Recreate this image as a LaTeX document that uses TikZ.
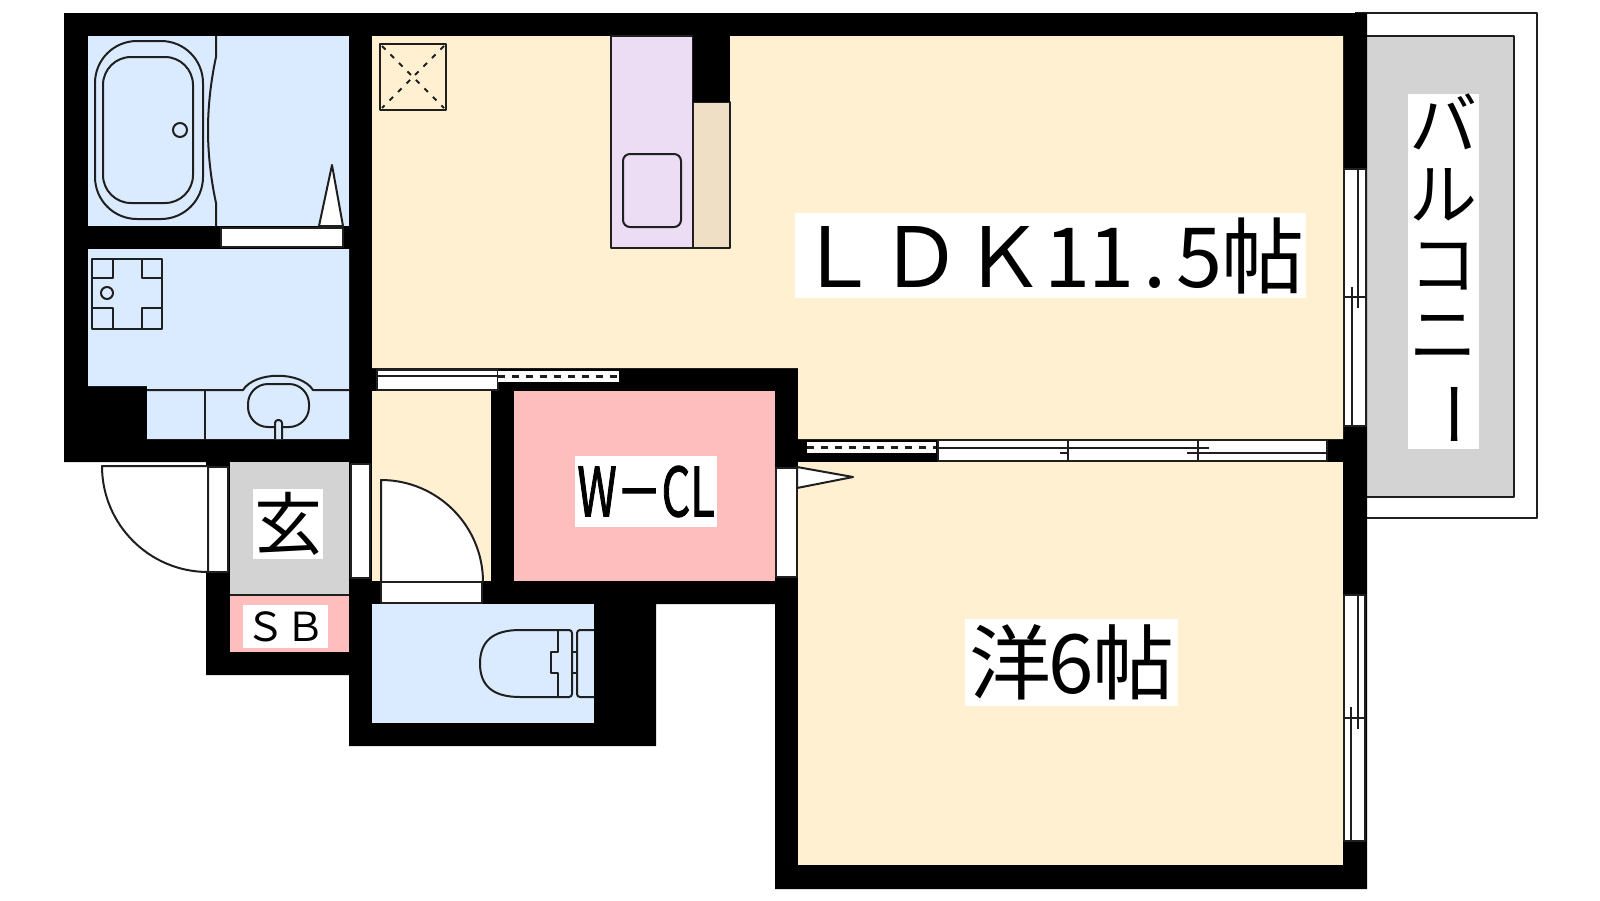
\documentclass[tikz,border=0pt]{standalone}
\usepackage{fontspec}
\usepackage{xcolor}
\setmainfont{Noto Sans CJK JP}
\newfontfamily\narrowfont[FakeStretch=0.66, FakeBold=1.2]{Noto Sans CJK JP}
\usetikzlibrary{positioning}
\definecolor{wetblue}{HTML}{DBEBFF}
\definecolor{roomcream}{HTML}{FFF0D2}
\definecolor{kitchenlilac}{HTML}{ECDDF5}
\definecolor{counterbeige}{HTML}{EFDFC5}
\definecolor{closetpink}{HTML}{FFBEBE}
\definecolor{floorgray}{HTML}{D3D3D3}
\newcommand{\hw}[1]{\makebox[41pt]{#1}}
\newcommand{\hwb}[1]{\makebox[44pt]{#1}}
\begin{document}
\begin{tikzpicture}[x=1pt, y=-1pt]
			\tikzstyle{wall} = [fill=black, draw=none]
			\tikzstyle{line} = [draw=black!88, line width=2pt, line join=round]
			\tikzstyle{sash} = [line, fill=white]
			\tikzstyle{tag} = [fill=white, inner sep=0pt, align=center]
			\useasboundingbox (0, 0) rectangle (1600, 900);

			\draw[sash] (1355, 13) -- (1537, 13) -- (1537, 518) -- (1355, 518);
			\draw[line, fill=floorgray] (1360, 36) rectangle (1514, 497);
			\path[wall] (64, 13) -- (1367, 13) -- (1367, 889) -- (775, 889) -- (775, 604) -- (656, 604) -- (656, 746)
				-- (349, 746) -- (349, 675) -- (206, 675) -- (206, 462) -- (64, 462) -- cycle;

			\fill[wetblue] (88, 36) rectangle (349, 226);
			\fill[wetblue] (88, 249) -- (349, 249) -- (349, 439) -- (147, 439) -- (147, 386) -- (88, 386) -- cycle;
			\fill[wetblue] (372, 604) rectangle (594, 723);
			\fill[roomcream] (372, 36) -- (1343, 36) -- (1343, 439) -- (798, 439) -- (798, 368) -- (372, 368) -- cycle;
			\fill[roomcream] (372, 391) rectangle (491, 581);
			\fill[roomcream] (798, 462) rectangle (1343, 865);
			\fill[closetpink] (514, 391) rectangle (775, 581);
			\fill[closetpink] (230, 596) rectangle (349, 652);
			\fill[floorgray] (230, 462) rectangle (349, 594);
			\draw[line] (230, 595) -- (349, 595);

			\draw[line, fill=kitchenlilac] (611, 36) rectangle (693, 248);
			\draw[line, fill=counterbeige] (693, 102) rectangle (730, 248);
			\path[wall] (693, 36) rectangle (730, 102);
			\draw[line, rounded corners=7pt] (623, 154) rectangle (681, 227);

			\draw[line] (380, 44) rectangle (446, 110);
			\draw[line, dash pattern=on 5pt off 7pt] (382, 46) -- (444, 108) (444, 46) -- (382, 108);

			\draw[line, rounded corners=42pt] (95, 41) rectangle (203, 219);
			\draw[line, rounded corners=28pt] (103, 57) rectangle (193, 203);
			\draw[line] (180, 130) circle (7);
			\draw[line] (216, 36) -- (216, 57) .. controls (210, 85) and (208, 110) .. (208, 130)
				.. controls (208, 150) and (210, 175) .. (216, 203) -- (216, 226);
			\draw[sash] (319, 226) -- (332, 165) -- (343, 226) -- cycle;
			\draw[sash] (221, 228) rectangle (343, 247);

			\draw[line] (92, 259) rectangle (162, 329);
			\draw[line] (92, 278) -- (113, 278) -- (113, 259) (142, 259) -- (142, 278) -- (162, 278);
			\draw[line] (92, 308) -- (113, 308) -- (113, 329) (142, 329) -- (142, 308) -- (162, 308);
			\draw[line] (107, 293) circle (6);
			\draw[line] (147, 390) -- (243, 390) .. controls (255, 371) and (301, 371) .. (313, 390) -- (349, 390);
			\draw[line] (205, 390) -- (205, 439);
			\draw[line, rounded corners=20pt] (248, 384) rectangle (309, 427);
			\draw[line, fill=wetblue, rounded corners=3pt] (275, 439) -- (275, 420) -- (282, 420) -- (282, 439);

			\draw[sash] (377, 370) rectangle (498, 390);
			\draw[line] (377, 376) -- (498, 376);
			\fill[white] (498, 371) rectangle (619, 382);
			\draw[line, line width=2.2pt, dash pattern=on 7pt off 7pt] (498, 376.5) -- (619, 376.5);
			\fill[white] (807, 442) rectangle (936, 453);
			\draw[line, line width=2.2pt, dash pattern=on 7pt off 7pt] (807, 447.5) -- (936, 447.5);
			\draw[sash] (938, 440) rectangle (1327, 461);
			\draw[line] (1068, 440) -- (1068, 461) (1198, 440) -- (1198, 461);
			\draw[line] (938, 448) -- (1209, 448) (1060, 453) -- (1068, 453) (1187, 453) -- (1327, 453);

			\draw[sash] (1344, 169) rectangle (1366, 426);
			\draw[line] (1358, 169) -- (1358, 308) (1352, 287) -- (1352, 426) (1344, 297) -- (1366, 297);
			\draw[sash] (1344, 595) rectangle (1365, 841);
			\draw[line] (1358, 595) -- (1358, 729) (1351, 707) -- (1351, 841) (1344, 718) -- (1365, 718);

			\draw[sash] (208, 467) rectangle (228, 572);
			\draw[sash] (208, 466) -- (102, 466) arc[start angle=180, end angle=90, radius=106] -- cycle;
			\draw[sash] (351, 464) rectangle (370, 578);
			\draw[sash] (381, 582) -- (381, 480) arc[start angle=270, end angle=360, radius=102] -- cycle;
			\draw[sash] (381, 582) rectangle (482, 603);
			\draw[sash] (776, 468) rectangle (797, 577);
			\draw[sash] (797, 467) -- (853, 477) -- (797, 488) -- cycle;

			\draw[line] (558, 630) -- (520, 630) .. controls (492, 630) and (480, 642) .. (480, 663.5)
				.. controls (480, 685) and (492, 697) .. (520, 697) -- (558, 697);
			\draw[line] (558, 630) -- (558, 652) -- (551, 652) -- (551, 673) -- (558, 673) -- (558, 697);
			\draw[line, rounded corners=3pt] (558, 630) -- (572, 630) -- (572, 697) -- (558, 697);
			\draw[line, rounded corners=3pt] (594, 630) -- (577, 630) -- (577, 697) -- (594, 697);
			\draw[line] (572, 652) -- (577, 652) (572, 673) -- (577, 673);

			\node[tag, minimum width=511pt, minimum height=85pt] at (1050.5, 255.5) (ldk)
				{\fontsize{83}{83}\selectfont ＬＤＫ\hwb{1}\hwb{1}\hwb{.}\hwb{5}帖};
			\node[tag, minimum width=213pt, minimum height=87pt] at (1071.5, 662.5) (yo)
				{\fontsize{82}{82}\selectfont 洋\hw{6}帖};
			\node[tag, minimum width=142pt, minimum height=71pt] at (646, 491.5) (wcl)
				{\fontsize{68}{68}\selectfont\narrowfont W－CL};
			\node[tag, minimum width=70pt, minimum height=70pt] at (288, 524) (genkan)
				{\fontsize{68}{68}\selectfont 玄};
			\node[tag, minimum width=85pt, minimum height=43pt] at (285.5, 626.5) (sb)
				{\fontsize{40}{40}\selectfont ＳＢ};
			\node[tag, minimum width=71pt, minimum height=355pt, font=\fontsize{68}{70}\selectfont] at (1443.5, 271.5) (balcony)
				{バ\\ル\\コ\\ニ\\\rotatebox[origin=c]{-90}{ー}};
		\end{tikzpicture}
\end{document}
